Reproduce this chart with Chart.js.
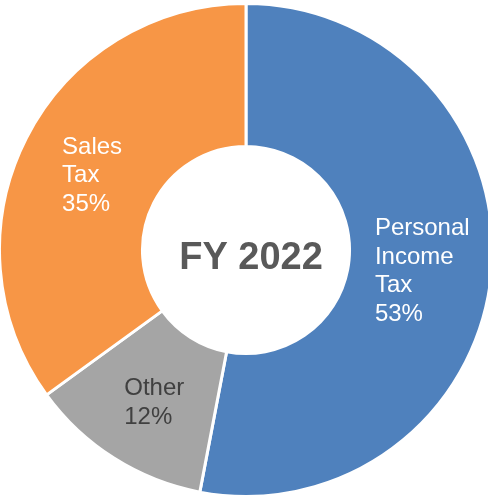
<!DOCTYPE html>
<html>
<head>
<meta charset="utf-8">
<script src="https://cdn.jsdelivr.net/npm/chart.js@4.4.1/dist/chart.umd.min.js"></script>
<style>
	html, body { margin: 0; padding: 0; background: #fff; overflow: hidden; }
	#wrap { position: absolute; left: -2px; top: 0; width: 496px; height: 500px; }
</style>
</head>
<body>
<div id="wrap"><canvas id="mycanvas"></canvas></div>
<script>
var categories = ["Personal Income Tax", "Other", "Sales Tax"];
var label_lines = [["Personal", "Income", "Tax"], ["Other"], ["Sales", "Tax"]];
var share_value = [53, 12, 35];
var slice_colors = ["#4F81BD", "#A5A5A5", "#F79646"];
var text_colors = ["#FFFFFF", "#404040", "#FFFFFF"];
var center_label = "FY 2022";

// labels drawn in each slice, block centred on the arc centre, text left aligned
var sliceLabels = {
	id: "sliceLabels",
	afterDatasetsDraw: function(chart) {
		var ctx = chart.ctx;
		var meta = chart.getDatasetMeta(0);
		var lineH = 28.5;
		ctx.save();
		ctx.font = "24px 'Liberation Sans', Arial, sans-serif";
		ctx.textBaseline = "middle";
		ctx.textAlign = "left";
		meta.data.forEach(function(arc, i) {
			var p = arc.getCenterPoint();
			var lines = label_lines[i].concat([share_value[i] + "%"]);
			var w = 0;
			lines.forEach(function(t) { w = Math.max(w, ctx.measureText(t).width); });
			var x = p.x + 2 - w / 2;
			var y = p.y + 5 - (lines.length - 1) * lineH / 2;
			ctx.fillStyle = text_colors[i];
			lines.forEach(function(t, j) { ctx.fillText(t, x, y + j * lineH); });
		});
		ctx.font = "bold 38px 'Liberation Sans', Arial, sans-serif";
		ctx.textAlign = "center";
		ctx.fillStyle = "#595959";
		var c = meta.data[0];
		ctx.fillText(center_label, c.x + 5, c.y + 9);
		ctx.restore();
	}
};

var ctx = document.getElementById("mycanvas");
var DonutGraph = new Chart(ctx, {
	type: "doughnut",
	data: {
		labels: categories,
		datasets: [{
			data: share_value,
			backgroundColor: slice_colors,
			borderColor: "#FFFFFF",
			borderWidth: 3
		}]
	},
	options: {
		responsive: true,
		maintainAspectRatio: false,
		animation: false,
		cutout: "42%",
		layout: { padding: 0 },
		plugins: {
			legend: { display: false },
			tooltip: { enabled: false }
		}
	},
	plugins: [sliceLabels]
});
</script>
</body>
</html>
